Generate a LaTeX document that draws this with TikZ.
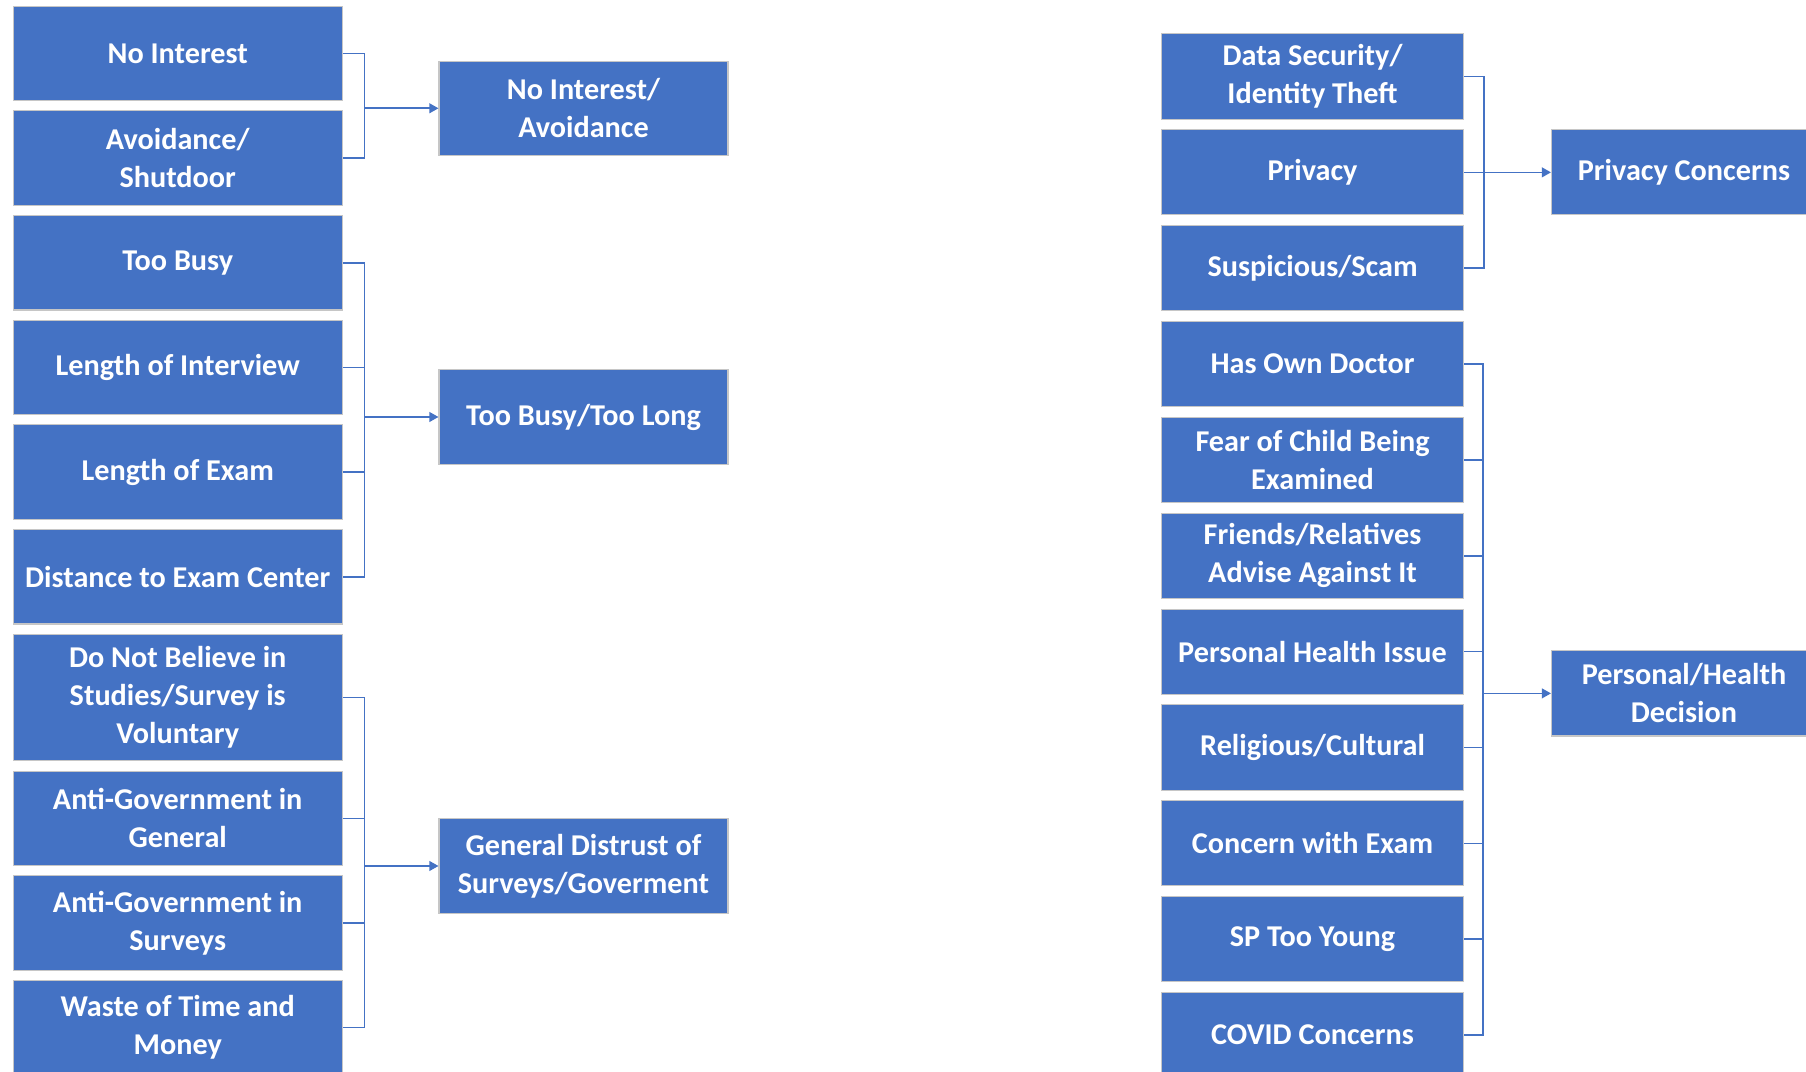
\documentclass[tikz,border=0pt]{standalone}
\usepackage{fontspec}
\setmainfont{Carlito}
\usetikzlibrary{arrows.meta, positioning}
\definecolor{boxblue}{HTML}{4472C4}

\begin{document}
\begin{tikzpicture}[
    node distance=0.092cm,
    box/.style={rectangle, draw=gray!45, line width=0.3pt, fill=boxblue, text=white, align=center, inner sep=1pt, font=\fontsize{8.6}{10.8}\selectfont\bfseries},
    reason/.style={box, minimum width=3.29cm, minimum height=0.944cm},
    tallreason/.style={reason, minimum height=1.267cm},
    concern/.style={box, minimum width=3.02cm, minimum height=0.852cm},
    group/.style={box, minimum width=2.89cm, minimum height=0.944cm},
    sidegroup/.style={box, minimum width=2.65cm, minimum height=0.852cm},
    link/.style={draw=boxblue, line width=0.45pt},
    arrow/.style={link, -{Triangle[length=2.6pt, width=2.8pt]}}
]

\useasboundingbox (0,0) rectangle (18.06,-10.72);

% Left column: reasons
\node[reason, anchor=north west] (noint) at (0.127,-0.058) {No Interest};
\node[reason, below=of noint] (avoid) {Avoidance/\\Shutdoor};
\node[reason, below=of avoid] (busy) {Too Busy};
\node[reason, below=of busy] (lenint) {Length of Interview};
\node[reason, below=of lenint] (lenexam) {Length of Exam};
\node[reason, below=of lenexam] (dist) {Distance to Exam Center};
\node[tallreason, below=of dist] (notbel) {Do Not Believe in\\Studies/Survey is\\Voluntary};
\node[reason, below=of notbel] (antigen) {Anti-Government in\\General};
\node[reason, below=of antigen] (antisur) {Anti-Government in\\Surveys};
\node[reason, below=of antisur] (waste) {Waste of Time and\\Money};

% Middle column: grouped reasons
\node[group] (niav) at (5.835,-1.083) {No Interest/\\Avoidance};
\node[group] (tbtl) at (5.835,-4.17) {Too Busy/Too Long};
\node[group] (gdist) at (5.835,-8.66) {General Distrust of\\Surveys/Goverment};

% Right column: concerns
\node[concern, anchor=north west] (datasec) at (11.61,-0.334) {Data Security/\\Identity Theft};
\node[concern, below=0.096cm of datasec] (privacy) {Privacy};
\node[concern, below=0.096cm of privacy] (susp) {Suspicious/Scam};
\node[concern, below=0.096cm of susp] (owndoc) {Has Own Doctor};
\node[concern, below=0.096cm of owndoc] (fearchild) {Fear of Child Being\\Examined};
\node[concern, below=0.096cm of fearchild] (friends) {Friends/Relatives\\Advise Against It};
\node[concern, below=0.096cm of friends] (health) {Personal Health Issue};
\node[concern, below=0.096cm of health] (relig) {Religious/Cultural};
\node[concern, below=0.096cm of relig] (exam) {Concern with Exam};
\node[concern, below=0.096cm of exam] (young) {SP Too Young};
\node[concern, below=0.096cm of young] (covid) {COVID Concerns};

% Far right: grouped concerns
\node[sidegroup] (privc) at (16.84,-1.719) {Privacy Concerns};
\node[sidegroup] (phd) at (16.84,-6.934) {Personal/Health\\Decision};

% Junctions
\coordinate (j1) at ([xshift=-0.74cm]niav.west);
\coordinate (j2) at ([xshift=-0.74cm]tbtl.west);
\coordinate (j3) at ([xshift=-0.74cm]gdist.west);
\coordinate (j4) at ([xshift=0.2cm]privacy.east);
\coordinate (j5) at ([xshift=-0.68cm]phd.west);

% Brackets
\draw[link] (noint.east) -| (j1) |- (avoid.east);
\draw[link] (busy.east) -| (j2) |- (dist.east);
\draw[link] (lenint.east) -| (j2);
\draw[link] (lenexam.east) -| (j2);
\draw[link] (notbel.east) -| (j3) |- (waste.east);
\draw[link] (antigen.east) -| (j3);
\draw[link] (antisur.east) -| (j3);
\draw[link] (datasec.east) -| (j4) |- (susp.east);
\draw[link] (privacy.east) -- (j4);
\draw[link] (owndoc.east) -| (j5) |- (covid.east);
\draw[link] (fearchild.east) -| (j5);
\draw[link] (friends.east) -| (j5);
\draw[link] (health.east) -| (j5);
\draw[link] (relig.east) -| (j5);
\draw[link] (exam.east) -| (j5);
\draw[link] (young.east) -| (j5);

% Arrows
\draw[arrow] (j1) -- (niav);
\draw[arrow] (j2) -- (tbtl);
\draw[arrow] (j3) -- (gdist);
\draw[arrow] (j4) -- (privc.west |- j4);
\draw[arrow] (j5) -- (phd);

\end{tikzpicture}
\end{document}
